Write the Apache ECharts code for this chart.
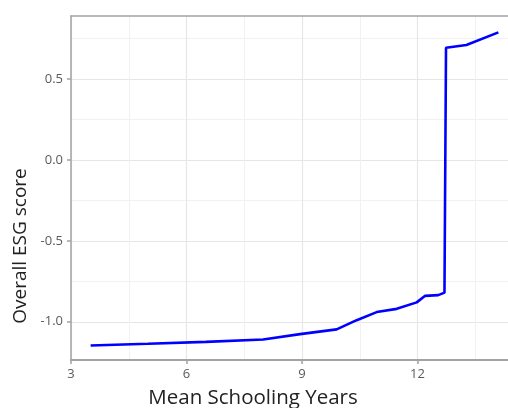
<!DOCTYPE html>
<html><head><meta charset="utf-8">
<script src="https://cdn.jsdelivr.net/npm/echarts@6/dist/echarts.min.js"></script>
<style>html,body{margin:0;padding:0;background:#fff}#c{width:508px;height:408px}</style>
</head><body><div id="c"></div>
<script>
const schoolingYears = [3.51, 5.0, 6.5, 7.99, 8.95, 9.90, 10.42, 10.94, 11.46, 11.98, 12.19, 12.54, 12.70, 12.74, 13.27, 14.10];
const esgScore      = [-1.146, -1.136, -1.124, -1.109, -1.076, -1.047, -0.99, -0.94, -0.92, -0.88, -0.84, -0.835, -0.82, 0.693, 0.71, 0.788];
const yTicks = [-1.0, -0.5, 0.0, 0.5];
const xTicks = [3, 6, 9, 12];
const xTitle = 'Mean Schooling Years';
const yTitle = 'Overall ESG score';

const chart = echarts.init(document.getElementById('c'), null, {renderer: 'canvas'});
const fontFam = '"Open Sans", "Noto Sans", sans-serif';
const gridCol = '#e6e6e6';
const minorCol = '#f1f1f1';
const axisCol = '#a3a3a3';
chart.setOption({
  animation: false,
  grid: {left: 71, right: 0, top: 16, bottom: 48, containLabel: false},
  xAxis: [{
    type: 'value', min: 3, max: 14.35, interval: 3,
    axisLine: {show: true, onZero: false, lineStyle: {color: axisCol, width: 2}},
    axisTick: {show: true, length: 4, lineStyle: {color: axisCol, width: 1.5}, customValues: xTicks},
    axisLabel: {color: '#5a5a5a', fontSize: 13, fontFamily: fontFam, margin: 8, customValues: xTicks,
      formatter: v => String(v)},
    splitLine: {show: true, lineStyle: {color: gridCol, width: 1.2}},
    minorTick: {show: false, splitNumber: 2},
    minorSplitLine: {show: true, lineStyle: {color: minorCol, width: 1}}
  }, {
    type: 'value', position: 'top', min: 3, max: 14.35,
    axisLine: {show: true, onZero: false, lineStyle: {color: axisCol, width: 1.5}},
    axisTick: {show: false}, axisLabel: {show: false}, splitLine: {show: false}
  }],
  yAxis: {
    type: 'value', min: -1.236, max: 0.889,
    axisLine: {show: true, onZero: false, lineStyle: {color: axisCol, width: 1.5}},
    axisTick: {show: true, length: 4, lineStyle: {color: axisCol, width: 1.5}, customValues: yTicks},
    axisLabel: {color: '#5a5a5a', fontSize: 13, fontFamily: fontFam, margin: 8, customValues: yTicks,
      formatter: v => v.toFixed(1)},
    splitLine: {show: true, lineStyle: {color: gridCol, width: 1.2}},
    minorTick: {show: false, splitNumber: 2},
    minorSplitLine: {show: true, lineStyle: {color: minorCol, width: 1}}
  },
  graphic: [
    {type: 'text', x: 253, y: 398, style: {text: xTitle, fill: '#222', font: '20.5px ' + fontFam, align: 'center', verticalAlign: 'middle'}},
    {type: 'text', x: 21, y: 246, rotation: Math.PI / 2, style: {text: yTitle, fill: '#222', font: '19px ' + fontFam, align: 'center', verticalAlign: 'middle'}}
  ],
  series: [{
    type: 'line', data: schoolingYears.map((x, i) => [x, esgScore[i]]),
    showSymbol: false, symbol: 'none',
    lineStyle: {color: '#0000ff', width: 2.6}, clip: true
  }]
});
</script></body></html>
